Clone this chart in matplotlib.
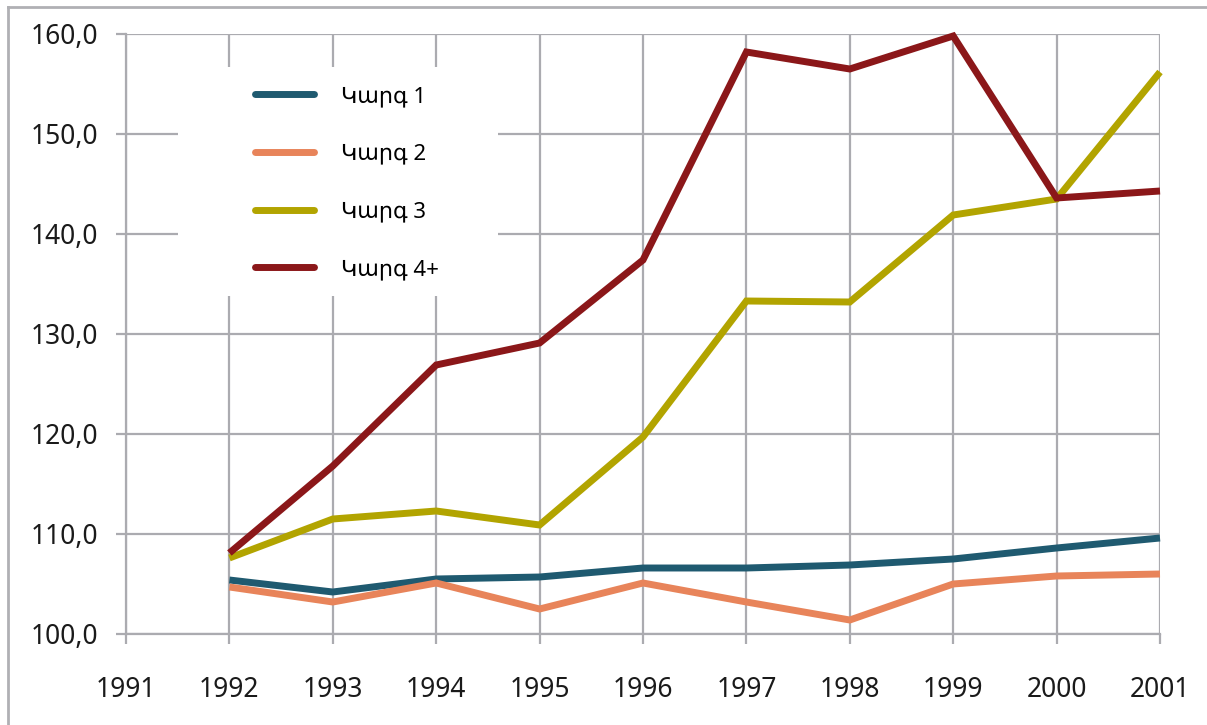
import matplotlib
matplotlib.use("Agg")
import matplotlib.pyplot as plt
from matplotlib.lines import Line2D
from matplotlib.patches import Rectangle
from matplotlib.ticker import FuncFormatter, MultipleLocator

plt.rcParams['font.family'] = ['Noto Sans', 'DejaVu Sans']

years = [1992, 1993, 1994, 1995, 1996, 1997, 1998, 1999, 2000, 2001]
labels = ["Կարգ 1", "Կարգ 2", "Կարգ 3", "Կարգ 4+"]
s1 = [105.4, 104.2, 105.5, 105.7, 106.6, 106.6, 106.9, 107.5, 108.6, 109.6]
s2 = [104.7, 103.2, 105.1, 102.5, 105.1, 103.2, 101.4, 105.0, 105.8, 106.0]
s3 = [107.6, 111.5, 112.3, 110.9, 119.7, 133.3, 133.2, 141.9, 143.5, 156.2]
s4 = [108.1, 116.8, 126.9, 129.1, 137.4, 158.2, 156.5, 159.8, 143.6, 144.3]
colors = ["#1f5a70", "#e8845a", "#b2a400", "#8b1719"]

fig = plt.figure(figsize=(12.07, 7.25), dpi=100)
ax = fig.add_axes([126/1207, 1 - 634/725, (1160 - 126)/1207, 600/725])

grid_c = "#ababb0"
for s, c, lab in zip([s1, s2, s3, s4], colors, labels):
    ax.plot(years, s, color=c, lw=5, label=lab, solid_joinstyle='miter',
            solid_capstyle='butt', zorder=3, clip_on=False)

ax.set_xlim(1991, 2001)
ax.set_ylim(100, 160)
ax.xaxis.set_major_locator(MultipleLocator(1))
ax.yaxis.set_major_locator(MultipleLocator(10))
ax.yaxis.set_major_formatter(FuncFormatter(lambda v, p: f"{v:.1f}".replace('.', ',')))
ax.grid(True, color=grid_c, lw=1.6, zorder=0)
for side in ['top', 'right']:
    ax.spines[side].set_visible(False)
for side in ['left', 'bottom']:
    ax.spines[side].set_color(grid_c)
    ax.spines[side].set_linewidth(1.6)
ax.tick_params(axis='both', colors=grid_c, width=1.6, length=7, labelcolor='#1a1a1a',
               labelsize=19)
ax.tick_params(axis='y', pad=13)
ax.tick_params(axis='x', pad=23)

# legend background box
ax.add_patch(Rectangle((0.0503, 0.5633), 0.3598 - 0.0503, 0.945 - 0.5633,
                       transform=ax.transAxes, facecolor='white', edgecolor='none',
                       zorder=2, clip_on=False))
leg = ax.legend(loc='upper left', bbox_to_anchor=(0.1247, 0.913), frameon=False,
                fontsize=16, handlelength=2.65, handletextpad=1.23,
                labelspacing=1.65, borderpad=0, borderaxespad=0)
leg.set_zorder(5)
for h in leg.get_lines():
    h.set_linewidth(5)
    h.set_solid_capstyle('round')

# outer frame lines (top and left)
fig.add_artist(Line2D([8/1207, 8/1207], [0, 1 - 7/725], transform=fig.transFigure,
                      color='#b0b0b4', lw=2))
fig.add_artist(Line2D([8/1207, 1], [1 - 7/725, 1 - 7/725], transform=fig.transFigure,
                      color='#b0b0b4', lw=2))

fig.savefig("out.png", dpi=100)
